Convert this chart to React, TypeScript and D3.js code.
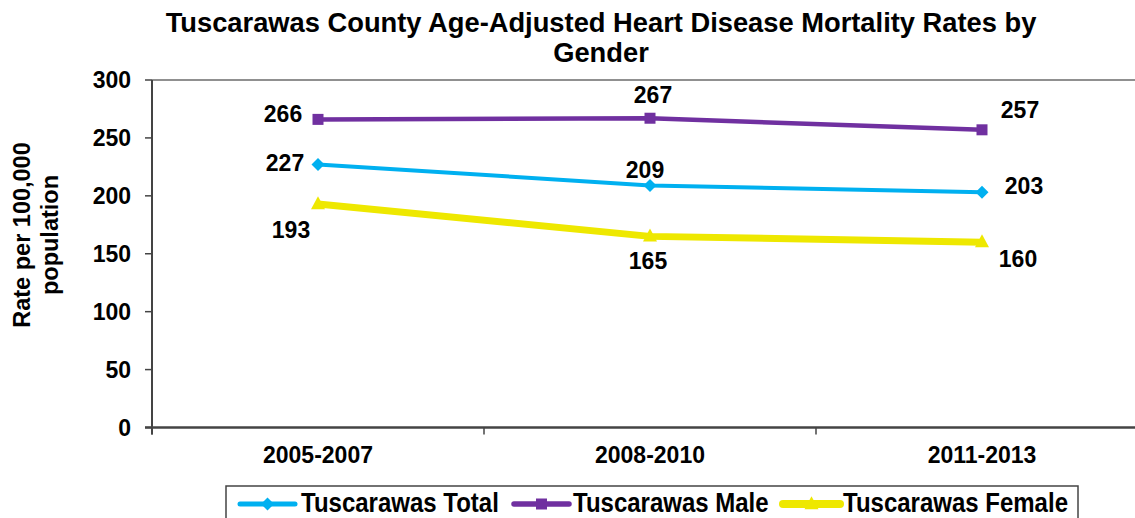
import React from "react";
import * as d3 from "d3";

const categories = ["2005-2007", "2008-2010", "2011-2013"];
const totalValues = [227, 209, 203];
const maleValues = [266, 267, 257];
const femaleValues = [193, 165, 160];
const yTicks = [0, 50, 100, 150, 200, 250, 300];
const seriesNames = ["Tuscarawas Total", "Tuscarawas Male", "Tuscarawas Female"];

const W = 1135;
const H = 518;
const FONT = "'Liberation Sans', Arial, sans-serif";

type Series = {
  name: string;
  values: number[];
  color: string;
  width: number;
  marker: "diamond" | "square" | "triangle";
  labelOffsets: [number, number][];
};

const series: Series[] = [
  {
    name: seriesNames[0],
    values: totalValues,
    color: "#00B0F0",
    width: 4,
    marker: "diamond",
    labelOffsets: [[-33, -2], [-5, -16], [42, -7]],
  },
  {
    name: seriesNames[1],
    values: maleValues,
    color: "#7030A0",
    width: 4.5,
    marker: "square",
    labelOffsets: [[-35, -6], [3, -24], [38, -20]],
  },
  {
    name: seriesNames[2],
    values: femaleValues,
    color: "#EEE800",
    width: 7,
    marker: "triangle",
    labelOffsets: [[-27, 26], [-2, 24], [36, 17]],
  },
];

function Marker({ type, x, y, color }: { type: string; x: number; y: number; color: string }) {
  if (type === "diamond") {
    const r = 6.5;
    return <path d={`M${x},${y - r}L${x + r},${y}L${x},${y + r}L${x - r},${y}Z`} fill={color} />;
  }
  if (type === "square") {
    const s = 11;
    return <rect x={x - s / 2} y={y - s / 2} width={s} height={s} fill={color} />;
  }
  const h = 13;
  const w = 14;
  return <path d={`M${x},${y - h * 0.6}L${x + w / 2},${y + h * 0.4}L${x - w / 2},${y + h * 0.4}Z`} fill={color} />;
}

export default function App() {
  const plotLeft = 152;
  const plotTop = 80;
  const plotBottom = 427.5;
  const band = 332;
  const x = d3
    .scaleBand<string>()
    .domain(categories)
    .range([plotLeft, plotLeft + band * categories.length])
    .paddingInner(0)
    .paddingOuter(0);
  const cx = (c: string) => (x(c) as number) + x.bandwidth() / 2;
  const y = d3.scaleLinear().domain([0, 300]).range([plotBottom, plotTop]);

  const line = d3
    .line<number>()
    .x((_, i) => cx(categories[i]))
    .y((d) => y(d));

  const xTickPositions = [...categories.map((c) => x(c) as number), plotLeft + band * categories.length];

  const legendItems = [
    { s: series[0], lx1: 240, lx2: 295, tx: 301 },
    { s: series[1], lx1: 514, lx2: 569, tx: 573 },
    { s: series[2], lx1: 783, lx2: 840, tx: 843 },
  ];

  return (
    <svg
      width={W}
      height={H}
      style={{ position: "absolute", left: 0, top: 0, background: "#fff" }}
      fontFamily={FONT}
    >
      <rect x={0} y={0} width={W} height={H} fill="#fff" />
      {/* Title */}
      <text x={601} y={32} textAnchor="middle" fontSize={27.3} fontWeight="bold" fill="#000">
        Tuscarawas County Age-Adjusted Heart Disease Mortality Rates by
      </text>
      <text x={601} y={62} textAnchor="middle" fontSize={27.3} fontWeight="bold" fill="#000">
        Gender
      </text>

      {/* Plot area border */}
      <line x1={plotLeft} x2={W} y1={plotTop} y2={plotTop} stroke="#222" strokeWidth={1.2} />

      {/* Y axis */}
      <line x1={plotLeft} x2={plotLeft} y1={plotTop} y2={plotBottom + 7} stroke="#444" strokeWidth={2} />
      {yTicks.map((t) => (
        <g key={t}>
          <line x1={plotLeft - 7} x2={plotLeft} y1={y(t)} y2={y(t)} stroke="#444" strokeWidth={1.5} />
          <text
            x={131}
            y={y(t)}
            dy="0.36em"
            textAnchor="end"
            fontSize={23}
            fontWeight="bold"
            fill="#000"
          >
            {t}
          </text>
        </g>
      ))}

      {/* X axis */}
      <line x1={plotLeft - 7} x2={W} y1={plotBottom} y2={plotBottom} stroke="#444" strokeWidth={2.5} />
      {xTickPositions.map((p, i) => (
        <line key={i} x1={p} x2={p} y1={plotBottom} y2={plotBottom + 7} stroke="#444" strokeWidth={1.5} />
      ))}
      {categories.map((c) => (
        <text key={c} x={cx(c)} y={463} textAnchor="middle" fontSize={23} fontWeight="bold" fill="#000">
          {c}
        </text>
      ))}

      {/* Y axis title */}
      <g transform="rotate(-90)" fontSize={23.5} fontWeight="bold" fill="#000">
        <text x={-235} y={30} textAnchor="middle">
          Rate per 100,000
        </text>
        <text x={-235} y={58} textAnchor="middle">
          population
        </text>
      </g>

      {/* Series */}
      {series.map((s) => (
        <g key={s.name}>
          <path d={line(s.values) || ""} fill="none" stroke={s.color} strokeWidth={s.width} strokeLinejoin="round" />
          {s.values.map((v, i) => (
            <Marker key={i} type={s.marker} x={cx(categories[i])} y={y(v)} color={s.color} />
          ))}
        </g>
      ))}

      {/* Data labels */}
      {series.map((s) =>
        s.values.map((v, i) => (
          <text
            key={s.name + i}
            x={cx(categories[i]) + s.labelOffsets[i][0]}
            y={y(v) + s.labelOffsets[i][1]}
            dy="0.36em"
            textAnchor="middle"
            fontSize={23}
            fontWeight="bold"
            fill="#000"
          >
            {v}
          </text>
        ))
      )}

      {/* Legend */}
      <rect x={226} y={486} width={852} height={50} fill="#fff" stroke="#444" strokeWidth={1.5} />
      {legendItems.map(({ s, lx1, lx2, tx }) => {
        const ly = 504;
        const mx = (lx1 + lx2) / 2;
        return (
          <g key={s.name}>
            <line x1={lx1} x2={lx2} y1={ly} y2={ly} stroke={s.color} strokeWidth={s.width + 1} strokeLinecap="round" />
            <Marker type={s.marker} x={mx} y={ly} color={s.color} />
            <g transform={`translate(${tx},512) scale(1,1.15)`}>
              <text x={0} y={0} fontSize={24} fontWeight="bold" fill="#000">
                {s.name}
              </text>
            </g>
          </g>
        );
      })}
    </svg>
  );
}
